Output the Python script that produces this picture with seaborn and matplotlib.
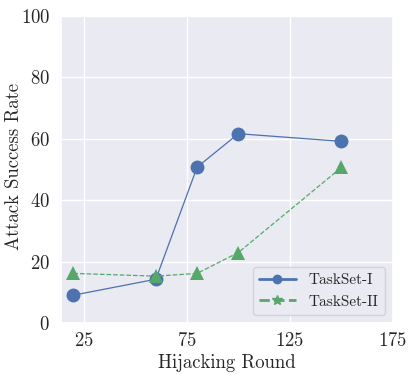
import matplotlib
matplotlib.use("Agg")
import matplotlib.pyplot as plt
from matplotlib.lines import Line2D
import seaborn as sns
import pandas as pd

# data
rounds = [20, 60, 80, 100, 150]
taskset_1 = [9.1, 14.3, 50.8, 61.7, 59.2]
taskset_2 = [16.2, 15.3, 16.2, 23.0, 50.7]
x_ticks = [25, 75, 125, 175]
y_ticks = [0, 20, 40, 60, 80, 100]

sns.set_theme(style="darkgrid")
plt.rcParams["font.family"] = ["cmr10", "DejaVu Serif"]
plt.rcParams["axes.formatter.use_mathtext"] = True
plt.rcParams["mathtext.fontset"] = "cm"

blue, green = sns.color_palette("deep")[0], sns.color_palette("deep")[2]

df1 = pd.DataFrame({"round": rounds, "asr": taskset_1})
df2 = pd.DataFrame({"round": rounds, "asr": taskset_2})

fig = plt.figure(figsize=(4.15, 3.74), dpi=100)
ax = fig.add_axes([0.147, 0.136, 0.8, 0.821])

sns.lineplot(data=df1, x="round", y="asr", ax=ax, color=blue, linewidth=0.9,
             marker="o", markersize=10, markeredgewidth=0, legend=False)
sns.lineplot(data=df2, x="round", y="asr", ax=ax, color=green, linewidth=0.9,
             linestyle="--", marker="^", markersize=10, markeredgewidth=0, legend=False)

ax.set_xlim(14, 175)
ax.set_ylim(0, 100)
ax.set_xticks(x_ticks)
ax.set_yticks(y_ticks)
ax.tick_params(labelsize=13.5)
ax.tick_params(axis="x", pad=0.5)
ax.tick_params(axis="y", pad=2)
ax.set_xlabel("Hijacking Round", fontsize=13.5)
ax.set_ylabel("Attack Success Rate", fontsize=13.5)
ax.yaxis.set_label_coords(-0.115, 0.51)
ax.xaxis.set_label_coords(0.5, -0.1)

handles = [
    Line2D([], [], color=blue, linewidth=2, marker="o", markersize=6),
    Line2D([], [], color=green, linewidth=2, linestyle="--", marker="*", markersize=7),
]
ax.legend(handles, ["TaskSet-I", "TaskSet-II"], loc="lower right", fontsize=11,
          handlelength=2.4, handletextpad=0.85, borderaxespad=0.55)

fig.savefig("out.png", dpi=100)
